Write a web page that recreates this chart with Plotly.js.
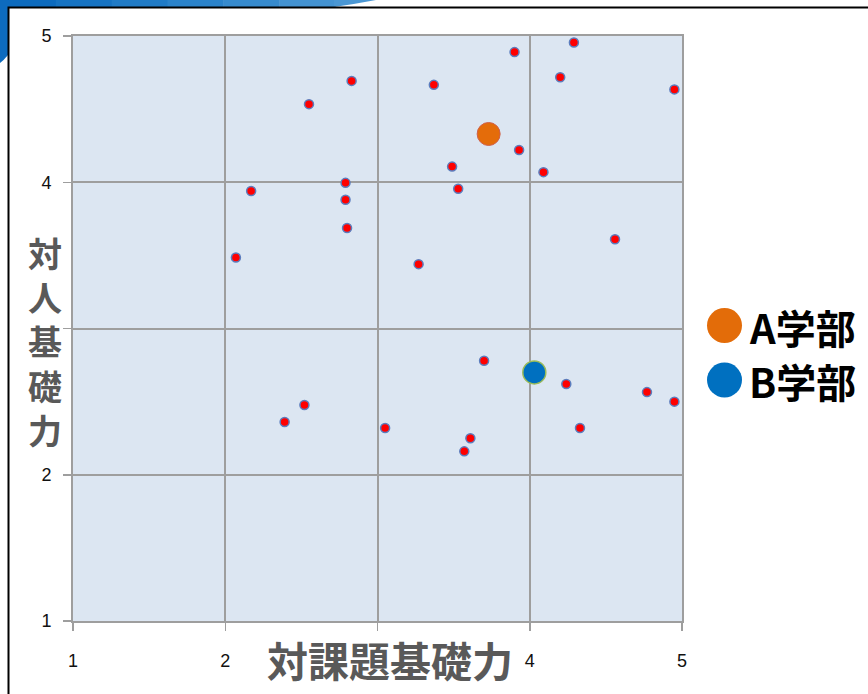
<!DOCTYPE html>
<html>
<head>
<meta charset="utf-8">
<script src="https://cdn.plot.ly/plotly-3.0.1.min.js"></script>
<style>html,body{margin:0;padding:0;background:#fff;}#chart{width:868px;height:694px;}</style>
</head>
<body>
<div id="chart"></div>
<script>
// ---- data ----
const redX = [4.29, 3.90, 4.20, 4.95, 2.83, 3.37, 2.55, 3.93, 3.49, 4.09, 3.53, 2.79, 2.79, 2.17,
              2.80, 2.07, 3.27, 4.56, 3.70, 4.24, 4.77, 4.95, 2.52, 2.39, 3.05, 4.33, 3.61, 3.57];
const redY = [4.955, 4.89, 4.718, 4.635, 4.693, 4.666, 4.534, 4.22, 4.107, 4.069, 3.955, 3.996, 3.88, 3.94,
              3.687, 3.485, 3.44, 3.61, 2.78, 2.62, 2.565, 2.50, 2.477, 2.361, 2.32, 2.32, 2.25, 2.16];
const groupAX = [3.73], groupAY = [4.33];
const groupBX = [4.03], groupBY = [2.70];
const tickVals = [1, 2, 3, 4, 5];
const tickText = ['1', '2', '', '4', '5'];
const xTitle = '対課題基礎力';
const yTitleChars = ['対', '人', '基', '礎', '力'];
const legendLabels = ['A学部', 'B学部'];
const legendColors = ['#E36C09', '#0070C0'];

// ---- layout helpers (pixel -> paper) ----
const W = 868, H = 694, L = 73, R = 186, T = 36, B = 73;
const PW = W - L - R, PH = H - T - B;
const px = x => (x - L) / PW;
const py = y => 1 - (y - T) / PH;

const cjk = '"Noto Sans CJK JP", "Noto Sans CJK SC", sans-serif';

const traces = [
  {x: redX, y: redY, type: 'scatter', mode: 'markers', hoverinfo: 'skip',
   marker: {size: 9, color: '#FF0000', line: {width: 1.5, color: '#5B7DBE'}}},
  {x: groupAX, y: groupAY, type: 'scatter', mode: 'markers', hoverinfo: 'skip',
   marker: {size: 23, color: '#E46C0A', line: {width: 1, color: '#D0604A'}}},
  {x: groupBX, y: groupBY, type: 'scatter', mode: 'markers', hoverinfo: 'skip',
   marker: {size: 23, color: '#0070C0', line: {width: 1.5, color: '#9BBB59'}}}
];

const axisCommon = {
  range: [1, 5], tickvals: tickVals, ticktext: tickText,
  showgrid: true, gridcolor: '#9E9E9E', gridwidth: 2,
  showline: true, linecolor: '#9E9E9E', linewidth: 2, mirror: true,
  zeroline: false, ticks: 'outside', ticklen: 8, tickcolor: '#9E9E9E', tickwidth: 1.5,
  tickfont: {family: '"Liberation Sans", Arial, sans-serif', size: 18, color: '#111'},
  fixedrange: true
};

const annotations = [];
const shapes = [];
// x title
annotations.push({xref: 'paper', yref: 'paper', x: px(390), y: py(659), text: '<b>' + xTitle + '</b>',
  showarrow: false, xanchor: 'center', yanchor: 'middle',
  font: {family: cjk, size: 41, color: '#595959'}});
// y title (stacked)
annotations.push({xref: 'paper', yref: 'paper', x: px(45), y: py(341), text: '<b>' + yTitleChars.join('<br>') + '</b>',
  showarrow: false, xanchor: 'center', yanchor: 'middle',
  font: {family: cjk, size: 34, color: '#595959'}});
// legend: coloured discs + labels
const legY = [325.5, 380];
legendLabels.forEach((t, i) => {
  shapes.push({type: 'circle', xref: 'paper', yref: 'paper', layer: 'above',
    x0: px(707), x1: px(742), y0: py(legY[i] - 17.5), y1: py(legY[i] + 17.5),
    fillcolor: legendColors[i], line: {width: 0}});
  annotations.push({xref: 'paper', yref: 'paper', x: px(747), y: py(legY[i] + 1), text: '<b>' + t + '</b>',
    showarrow: false, xanchor: 'left', yanchor: 'middle',
    font: {family: cjk, size: 40, color: '#000'}});
});

// decorative slide frame and top band
const blues = ['#0D6BBE', '#1673C2', '#207BC6', '#2B83CA', '#378BCE', '#4493D2'];
const segW = 335 / blues.length;
blues.forEach((c, i) => shapes.push({type: 'rect', xref: 'paper', yref: 'paper', layer: 'above',
  x0: px(i * segW), x1: px((i + 1) * segW + 0.5), y0: py(0), y1: py(7),
  fillcolor: c, line: {width: 0}}));
shapes.push({type: 'path', xref: 'paper', yref: 'paper', layer: 'above',
  path: `M ${px(334)} ${py(0)} L ${px(376)} ${py(0)} Q ${px(355)} ${py(4)} ${px(334)} ${py(7)} Z`,
  fillcolor: '#4A97D4', line: {width: 0}});
shapes.push({type: 'path', xref: 'paper', yref: 'paper', layer: 'above',
  path: `M ${px(0)} ${py(0)} L ${px(8)} ${py(0)} L ${px(8)} ${py(55)} Q ${px(4)} ${py(60)} ${px(0)} ${py(63)} Z`,
  fillcolor: '#0D6BBE', line: {width: 0}});
shapes.push({type: 'rect', xref: 'paper', yref: 'paper', layer: 'above',
  x0: px(8.5), x1: px(880), y0: py(7.5), y1: py(710),
  line: {width: 2, color: '#000'}, fillcolor: 'rgba(0,0,0,0)'});

const layout = {
  width: W, height: H, margin: {l: L, r: R, t: T, b: B},
  paper_bgcolor: '#FFFFFF', plot_bgcolor: '#DCE6F2', showlegend: false,
  xaxis: Object.assign({}, axisCommon, {ticklabelstandoff: 14}),
  yaxis: Object.assign({}, axisCommon, {ticklabelstandoff: 8}),
  annotations: annotations, shapes: shapes
};

Plotly.newPlot('chart', traces, layout, {staticPlot: true, displayModeBar: false});
</script>
</body>
</html>
